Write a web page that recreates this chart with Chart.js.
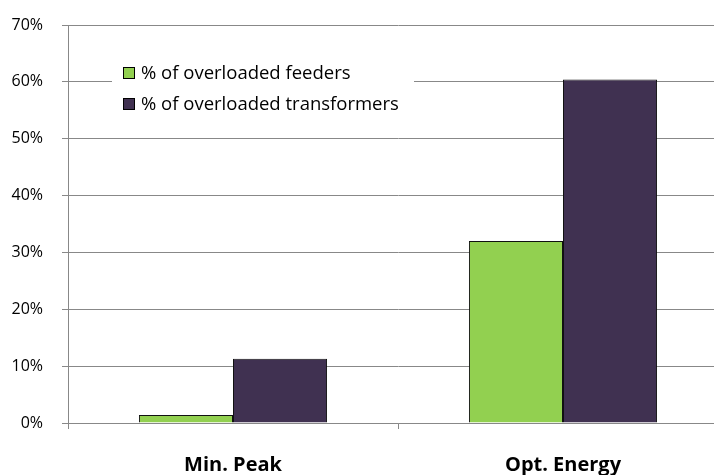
<!DOCTYPE html>
<html>
<head>
<meta charset="utf-8">
<script src="https://cdn.jsdelivr.net/npm/chart.js@4/dist/chart.umd.min.js"></script>
<style>
  html, body { margin: 0; padding: 0; background: #fff; overflow: hidden; }
  #wrap { width: 740px; height: 475px; }
</style>
</head>
<body>
<div id="wrap"><canvas id="chart" width="740" height="475"></canvas></div>
<script>
const categories = ['Min. Peak', 'Opt. Energy'];
const feeders = [1.4, 32.0];
const transformers = [11.3, 60.4];
const yTicks = [0, 10, 20, 30, 40, 50, 60, 70];

const gridGrey = '#888888';

// legend drawn inside the plot, on a white box that hides the grid line
const insideLegend = {
  id: 'insideLegend',
  afterDatasetsDraw(chart) {
    const ctx = chart.ctx;
    ctx.save();
    ctx.fillStyle = '#fff';
    ctx.fillRect(112, 56, 302, 62);
    ctx.font = '18.5px "Open Sans"';
    ctx.textBaseline = 'middle';
    chart.data.datasets.forEach((ds, i) => {
      const y = 73 + i * 31;
      ctx.fillStyle = ds.backgroundColor;
      ctx.fillRect(123.5, y - 5.5, 11, 11);
      ctx.strokeStyle = '#000';
      ctx.lineWidth = 1;
      ctx.strokeRect(123.5, y - 5.5, 11, 11);
      ctx.fillStyle = '#000';
      ctx.fillText(ds.label, 141, y + 1);
    });
    ctx.restore();
  }
};

new Chart(document.getElementById('chart'), {
  type: 'bar',
  data: {
    labels: categories,
    datasets: [
      { label: '% of overloaded feeders', data: feeders, backgroundColor: '#92D050', borderColor: '#111', borderWidth: 1 },
      { label: '% of overloaded transformers', data: transformers, backgroundColor: '#403151', borderColor: '#111', borderWidth: 1 },
    ],
  },
  options: {
    responsive: false,
    animation: false,
    categoryPercentage: 0.57,
    barPercentage: 1.0,
    layout: { padding: { top: 25, right: 12, left: 0, bottom: 0 } },
    plugins: { legend: { display: false }, tooltip: { enabled: false } },
    scales: {
      x: {
        grid: { drawOnChartArea: false, drawTicks: true, tickLength: 6, color: gridGrey, offset: true },
        border: { color: gridGrey, width: 1 },
        ticks: { color: '#000', padding: 24, font: { family: 'Open Sans', size: 20, weight: 'bold' } },
        afterFit(scale) { scale.height = 52; },
      },
      y: {
        min: 0,
        max: 70,
        afterBuildTicks(scale) { scale.ticks = yTicks.map((v) => ({ value: v })); },
        grid: { color: gridGrey, tickLength: 6, lineWidth: 1 },
        border: { color: gridGrey, width: 1 },
        ticks: { color: '#000', padding: 19, font: { family: 'Open Sans', size: 16 }, callback: (v) => v + '%' },
        afterFit(scale) {
          scale.width = 68;
          scale.paddingTop = 0;
          scale.paddingBottom = 0;
        },
      },
    },
  },
  plugins: [insideLegend],
});
</script>
</body>
</html>
